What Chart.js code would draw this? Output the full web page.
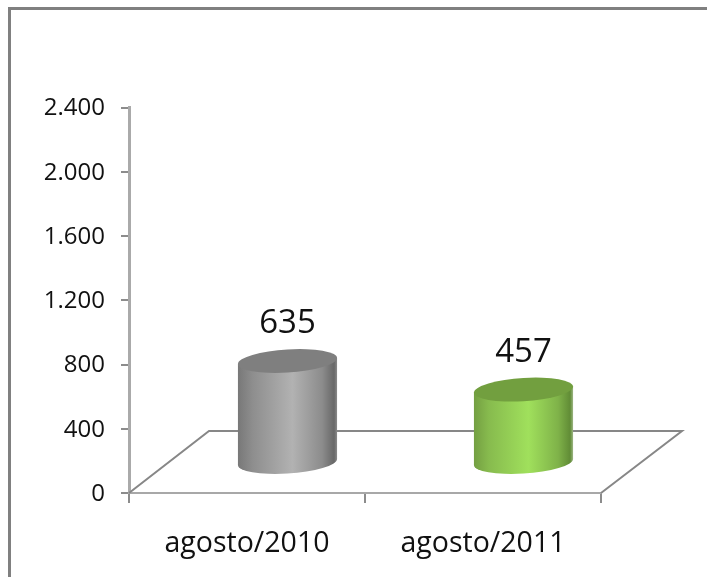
<!DOCTYPE html>
<html>
<head>
<meta charset="utf-8">
<style>
  html, body { margin: 0; padding: 0; background: #fff; overflow: hidden; }
  #wrap { position: relative; width: 707px; height: 577px; }
  #frame { position: absolute; left: 8px; top: 7px; right: 0; bottom: 0; border-left: 3px solid #808080; border-top: 3px solid #808080; }
  canvas { position: absolute; left: 0; top: 0; }
</style>
<script src="https://cdn.jsdelivr.net/npm/chart.js@4"></script>
</head>
<body>
<div id="wrap">
  <div id="frame"></div>
  <canvas id="cylChart" width="707" height="577"></canvas>
</div>
<script>
var categories = ['agosto/2010', 'agosto/2011'];
var values = [635, 457];
var yTicks = ['0', '400', '800', '1.200', '1.600', '2.000', '2.400'];

var fontName = '"Open Sans", sans-serif';
var sideStops = [
  [[0, '#787878'], [0.15, '#8e8e8e'], [0.55, '#b2b2b2'], [0.85, '#8c8c8c'], [0.97, '#686868'], [1, '#8a8a8a']],
  [[0, '#749f42'], [0.15, '#87bb4e'], [0.55, '#a0e05c'], [0.85, '#7fb249'], [0.97, '#618c36'], [1, '#9cb584']]
];
var topColors = ['#7f7f7f', '#729f3f'];

// the floor of the 3d box, the bars stand half way into it
var floorDx = 80, floorDy = -62;
var barDx = 40.5, barDy = -30;
var shear = -0.06, capRy = 11.6;

var cylinders = {
  id: 'cylinders',
  beforeDatasetsDraw: function (chart) {
    var c = chart.ctx, a = chart.chartArea;
    c.save();
    c.strokeStyle = '#878787';
    c.lineWidth = 2;
    c.beginPath();
    c.moveTo(a.left, a.bottom);
    c.lineTo(a.left + floorDx, a.bottom + floorDy);
    c.lineTo(a.right + floorDx + 1, a.bottom + floorDy);
    c.lineTo(a.right, a.bottom);
    c.stroke();
    c.restore();
  },
  beforeDatasetDraw: function (chart) {
    var c = chart.ctx;
    chart.getDatasetMeta(0).data.forEach(function (bar, i) {
      var g = c.createLinearGradient(bar.x - bar.width / 2, 0, bar.x + bar.width / 2, 0);
      sideStops[i].forEach(function (s) { g.addColorStop(s[0], s[1]); });
      bar.options.backgroundColor = g;
      c.save();
      c.translate(bar.x + barDx, bar.base + barDy);
      c.transform(1, shear, 0, 1, 0, 0);
      c.translate(-bar.x, -bar.base);
      c.fillStyle = g;
      c.beginPath();
      c.ellipse(bar.x, bar.base, bar.width / 2, capRy, 0, 0, Math.PI * 2);
      c.fill();
      bar.draw(c);
      c.fillStyle = topColors[i];
      c.beginPath();
      c.ellipse(bar.x, bar.y, bar.width / 2, capRy, 0, 0, Math.PI * 2);
      c.fill();
      c.restore();
    });
    return false;
  },
  afterDatasetsDraw: function (chart) {
    var c = chart.ctx;
    c.save();
    c.fillStyle = '#111';
    c.font = '33px ' + fontName;
    c.textAlign = 'center';
    c.textBaseline = 'middle';
    chart.getDatasetMeta(0).data.forEach(function (bar, i) {
      c.fillText(String(values[i]), bar.x + barDx, bar.y + barDy - 37);
    });
    c.restore();
  }
};

var ctx = document.getElementById('cylChart').getContext('2d');
var cylChart = new Chart(ctx, {
  type: 'bar',
  data: {
    labels: categories,
    datasets: [{
      data: values,
      barPercentage: 0.84,
      categoryPercentage: 0.5,
      borderWidth: 0,
      backgroundColor: ['#b2b2b2', '#a0e05c']
    }]
  },
  options: {
    responsive: false,
    animation: false,
    layout: { padding: { top: 107.5, right: 106, left: 0, bottom: 0 } },
    plugins: { legend: { display: false }, title: { display: false }, tooltip: { enabled: false } },
    scales: {
      x: {
        afterFit: function (s) { s.height = 84; },
        border: { color: '#a8a8a8', width: 2 },
        grid: { drawOnChartArea: false, color: '#8c8c8c', lineWidth: 2, tickLength: 10 },
        ticks: { color: '#111', padding: 24, font: { family: fontName, size: 28.5 }, maxRotation: 0 }
      },
      y: {
        min: 0,
        max: 2400,
        afterFit: function (s) { s.width = 129; },
        border: { color: '#aaaaaa', width: 3 },
        grid: { drawOnChartArea: false, color: '#8c8c8c', lineWidth: 2, tickLength: 8 },
        ticks: {
          stepSize: 400,
          color: '#111',
          padding: 16,
          labelOffset: 1,
          font: { family: fontName, size: 24 },
          callback: function (v, i) { return yTicks[i]; }
        }
      }
    }
  },
  plugins: [cylinders]
});
</script>
</body>
</html>
